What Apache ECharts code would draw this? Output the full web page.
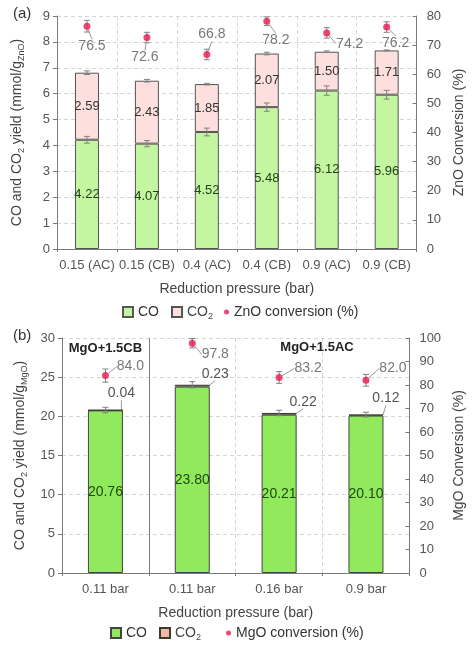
<!DOCTYPE html>
<html>
<head>
<meta charset="utf-8" />
<title></title>
<script src="https://cdn.jsdelivr.net/npm/echarts@6/dist/echarts.min.js"></script>
<style>
html, body { margin: 0; padding: 0; background: #fff; }
#chart { width: 474px; height: 649px; }
</style>
</head>
<body>
<div id="chart"></div>
<script>
// panel (a) - ZnO
var catA = ['0.15 (AC)', '0.15 (CB)', '0.4 (AC)', '0.4 (CB)', '0.9 (AC)', '0.9 (CB)'];
var coA = [4.22, 4.07, 4.52, 5.48, 6.12, 5.96];
var co2A = [2.59, 2.43, 1.85, 2.07, 1.50, 1.71];
var coErrA = [0.13, 0.12, 0.15, 0.16, 0.18, 0.17];
var totErrA = [0.07, 0.05, 0.03, 0.05, 0.03, 0.02];
var convA = [76.5, 72.6, 66.8, 78.2, 74.2, 76.2];
var convErrA = [2.0, 1.8, 1.8, 1.5, 1.8, 1.8];

// panel (b) - MgO
var catB = ['0.11 bar', '0.11 bar', '0.16 bar', '0.9 bar'];
var coB = [20.76, 23.80, 20.21, 20.10];
var co2B = [0.04, 0.23, 0.22, 0.12];
var totErrB = [0.35, 0.4, 0.35, 0.3];
var convB = [84.0, 97.8, 83.2, 82.0];
var convErrB = [2.8, 2.0, 2.5, 2.5];

// label offsets (px), style only
var convOffA = [[5, 20], [-2, 20], [5, -20], [9, 19], [23, 11], [9, 16]];
var convOffB = [[25, -9], [23, 11], [29, -9], [27, -12]];
var co2OffB = [[16, -17], [23, -12], [24, -12], [20, -17]];

var FONT = '"Liberation Sans", Arial, sans-serif';
var AXIS_COLOR = '#7a7a7a';
var TXT = '#555';

function errRows(vals, errs, base) {
	var rows = [];
	for (var i = 0; i < vals.length; i++) {
		var v = vals[i] + (base ? base[i] : 0);
		rows.push([i, v - errs[i], v + errs[i]]);
	}
	return rows;
}

function pts(vals) {
	var rows = [];
	for (var i = 0; i < vals.length; i++) rows.push([i, vals[i]]);
	return rows;
}

function renderErr(params, api) {
	var x = api.value(0);
	var lo = api.coord([x, api.value(1)]);
	var hi = api.coord([x, api.value(2)]);
	var w = 3;
	var st = { stroke: '#808080', lineWidth: 1 };
	return {
		type: 'group',
		children: [
			{ type: 'line', shape: { x1: lo[0], y1: lo[1], x2: hi[0], y2: hi[1] }, style: st },
			{ type: 'line', shape: { x1: lo[0] - w, y1: lo[1], x2: lo[0] + w, y2: lo[1] }, style: st },
			{ type: 'line', shape: { x1: hi[0] - w, y1: hi[1], x2: hi[0] + w, y2: hi[1] }, style: st }
		]
	};
}

var rich = {
	n: { fontSize: 14, color: '#444', fontFamily: FONT, lineHeight: 18 },
	s: { fontSize: 9, color: '#444', fontFamily: FONT, lineHeight: 10, verticalAlign: 'bottom' }
};

var legendNames = {
	coA: 'CO', co2A: '{n|CO}{s|2}', convA: 'ZnO conversion (%)',
	coB: 'CO', co2B: '{n|CO}{s|2}', convB: 'MgO conversion (%)'
};

function catAxis(grid, data, top) {
	return {
		type: 'category', gridIndex: grid, data: data,
		position: top ? 'top' : 'bottom',
		name: top ? '' : 'Reduction pressure (bar)', nameLocation: 'middle', nameGap: 33,
		nameTextStyle: { color: '#444', fontSize: 14, fontFamily: FONT },
		axisLine: { show: true, lineStyle: { color: AXIS_COLOR } },
		axisTick: { show: !top, length: 3, lineStyle: { color: AXIS_COLOR } },
		axisLabel: { show: !top, interval: 0, color: TXT, fontSize: 13, fontFamily: FONT, margin: 10 },
		splitLine: { show: !top, lineStyle: { color: '#d6d6d6', type: [4, 3] } }
	};
}

function valAxis(grid, max, step, right, name, gap) {
	return {
		type: 'value', gridIndex: grid, min: 0, max: max, interval: step,
		position: right ? 'right' : 'left',
		name: name, nameLocation: 'middle', nameGap: gap, nameRotate: 90,
		nameTextStyle: { color: '#444', fontSize: 14, fontFamily: FONT, rich: rich },
		axisLine: { show: true, lineStyle: { color: AXIS_COLOR } },
		axisTick: { show: true, inside: right, length: 4, lineStyle: { color: AXIS_COLOR } },
		axisLabel: { color: TXT, fontSize: 13, fontFamily: FONT, margin: right ? 10 : 7 },
		splitLine: { show: !right, lineStyle: { color: '#d6d6d6', type: [4, 3] } }
	};
}

var convLabel = {
	show: true, position: 'inside', color: TXT, fontSize: 14, fontFamily: FONT,
	formatter: function (p) { return p.value[1].toFixed(1); }
};
var guide = { show: true, lineStyle: { color: '#999', width: 1 } };

var option = {
	animation: false,
	textStyle: { fontFamily: FONT },
	grid: [
		{ left: 57, top: 16, width: 368, height: 233 },
		{ left: 62, top: 338, width: 353, height: 235 }
	],
	xAxis: [
		catAxis(0, catA, false), catAxis(0, catA, true),
		catAxis(1, catB, false), catAxis(1, catB, true)
	],
	yAxis: [
		valAxis(0, 9, 1, false, '{n|CO and CO}{s|2}{n| yield (mmol/g}{s|ZnO}{n|)}', 31),
		valAxis(0, 80, 10, true, 'ZnO Conversion (%)', 28),
		valAxis(1, 30, 5, false, '{n|CO and CO}{s|2}{n| yield (mmol/g}{s|MgO}{n|)}', 33),
		valAxis(1, 100, 10, true, 'MgO Conversion (%)', 36)
	],
	legend: [
		{
			data: ['coA', 'co2A'], left: 117, top: 300, icon: 'rect',
			itemWidth: 10, itemHeight: 10, itemGap: 12, selectedMode: false,
			formatter: function (n) { return legendNames[n]; },
			textStyle: { color: '#333', fontSize: 14, fontFamily: FONT, rich: rich }
		},
		{
			data: ['convA'], left: 219, top: 300, icon: 'circle',
			itemWidth: 5, itemHeight: 5, selectedMode: false,
			formatter: function (n) { return legendNames[n]; },
			textStyle: { color: '#333', fontSize: 14, fontFamily: FONT }
		},
		{
			data: ['coB', 'co2B'], left: 105, top: 621, icon: 'rect',
			itemWidth: 10, itemHeight: 10, itemGap: 12, selectedMode: false,
			formatter: function (n) { return legendNames[n]; },
			textStyle: { color: '#333', fontSize: 14, fontFamily: FONT, rich: rich }
		},
		{
			data: ['convB'], left: 221, top: 621, icon: 'circle',
			itemWidth: 5, itemHeight: 5, selectedMode: false,
			formatter: function (n) { return legendNames[n]; },
			textStyle: { color: '#333', fontSize: 14, fontFamily: FONT }
		}
	],
	series: [
		{
			name: 'coA', type: 'bar', stack: 'a', xAxisIndex: 0, yAxisIndex: 0,
			data: coA, barWidth: 24,
			itemStyle: { color: '#c4f5a0', borderColor: '#555', borderWidth: 1 },
			label: { show: true, position: 'inside', color: '#23401a', fontSize: 13, fontFamily: FONT, formatter: function (p) { return p.value.toFixed(2); } }
		},
		{
			name: 'co2A', type: 'bar', stack: 'a', xAxisIndex: 0, yAxisIndex: 0,
			data: co2A, barWidth: 24,
			itemStyle: { color: '#fde0dd', borderColor: '#555', borderWidth: 1 },
			label: { show: true, position: 'inside', color: '#333', fontSize: 13, fontFamily: FONT, formatter: function (p) { return p.value.toFixed(2); } }
		},
		{
			type: 'custom', xAxisIndex: 0, yAxisIndex: 0, renderItem: renderErr,
			encode: { x: 0, y: [1, 2] }, z: 5,
			data: errRows(coA, coErrA).concat(errRows(co2A, totErrA, coA))
		},
		{
			type: 'custom', xAxisIndex: 0, yAxisIndex: 1, renderItem: renderErr,
			encode: { x: 0, y: [1, 2] }, z: 5,
			data: errRows(convA, convErrA)
		},
		{
			name: 'convA', type: 'scatter', xAxisIndex: 0, yAxisIndex: 1,
			data: pts(convA), symbolSize: 7, z: 6,
			itemStyle: { color: '#ea1a4e' },
			label: convLabel, labelLine: guide,
			labelLayout: function (p) { return { dx: convOffA[p.dataIndex][0], dy: convOffA[p.dataIndex][1] }; }
		},
		{
			name: 'coB', type: 'bar', stack: 'b', xAxisIndex: 2, yAxisIndex: 2,
			data: coB, barWidth: 35,
			itemStyle: { color: '#90ea5c', borderColor: '#444', borderWidth: 1 },
			label: { show: true, position: 'inside', color: '#1d4a10', fontSize: 14, fontFamily: FONT, formatter: function (p) { return p.value.toFixed(2); } }
		},
		{
			name: 'co2B', type: 'bar', stack: 'b', xAxisIndex: 2, yAxisIndex: 2,
			data: co2B, barWidth: 35,
			itemStyle: { color: '#f3b9a7', borderColor: '#3a3a30', borderWidth: 1 },
			label: { show: true, position: 'inside', color: TXT, fontSize: 14, fontFamily: FONT, formatter: function (p) { return p.value.toFixed(2); } },
			labelLine: guide,
			labelLayout: function (p) { return { dx: co2OffB[p.dataIndex][0], dy: co2OffB[p.dataIndex][1] }; }
		},
		{
			type: 'custom', xAxisIndex: 2, yAxisIndex: 2, renderItem: renderErr,
			encode: { x: 0, y: [1, 2] }, z: 5,
			data: errRows(co2B, totErrB, coB)
		},
		{
			type: 'custom', xAxisIndex: 2, yAxisIndex: 3, renderItem: renderErr,
			encode: { x: 0, y: [1, 2] }, z: 5,
			data: errRows(convB, convErrB)
		},
		{
			name: 'convB', type: 'scatter', xAxisIndex: 2, yAxisIndex: 3,
			data: pts(convB), symbolSize: 7, z: 6,
			itemStyle: { color: '#ea1a4e' },
			label: convLabel, labelLine: guide,
			labelLayout: function (p) { return { dx: convOffB[p.dataIndex][0], dy: convOffB[p.dataIndex][1] }; }
		}
	]
};

var chart = echarts.init(document.getElementById('chart'), null, { renderer: 'canvas' });
chart.setOption(option);

// separator between the CB and AC groups in panel (b)
var x0 = chart.convertToPixel({ xAxisIndex: 2 }, 0);
var x1 = chart.convertToPixel({ xAxisIndex: 2 }, 1);
var yTop = chart.convertToPixel({ yAxisIndex: 2 }, 30);
var yBot = chart.convertToPixel({ yAxisIndex: 2 }, 0);
var sepX = Math.round((x0 + x1) / 2) + 0.5;

chart.setOption({
	graphic: [
		{ type: 'text', left: 13, top: 6, style: { text: '(a)', fontSize: 15, fill: '#333', fontFamily: FONT } },
		{ type: 'text', left: 13, top: 328, style: { text: '(b)', fontSize: 15, fill: '#333', fontFamily: FONT } },
		{ type: 'line', shape: { x1: sepX, y1: yTop, x2: sepX, y2: yBot }, style: { stroke: AXIS_COLOR, lineWidth: 1 } },
		{ type: 'text', x: x0, y: 348, style: { text: 'MgO+1.5CB', fontSize: 13, fontWeight: 'bold', fill: '#222', fontFamily: FONT, align: 'center', verticalAlign: 'middle' } },
		{ type: 'text', x: 317, y: 347, style: { text: 'MgO+1.5AC', fontSize: 13, fontWeight: 'bold', fill: '#222', fontFamily: FONT, align: 'center', verticalAlign: 'middle' } }
	]
});
</script>
</body>
</html>
